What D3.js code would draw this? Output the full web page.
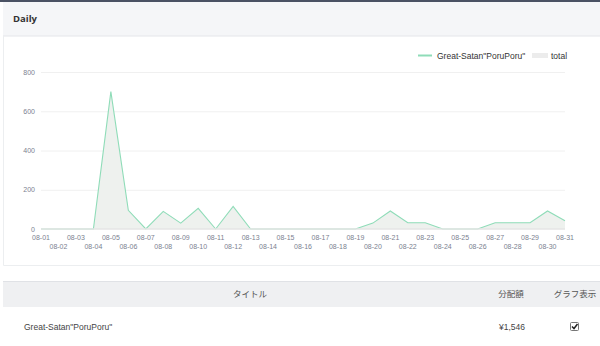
<!DOCTYPE html>
<html>
<head>
<meta charset="utf-8">
<script src="https://cdn.jsdelivr.net/npm/d3@7"></script>
<style>
  body { margin: 0; background: #fff; font-family: "Liberation Sans", "Noto Sans CJK JP", sans-serif; }
  svg { display: block; }
</style>
</head>
<body>
<script>
// Dates of the month shown on the x axis.
const days = d3.range(1, 32).map(d => "08-" + String(d).padStart(2, "0"));

// Daily amount for the single title (also drawn as the total area).
const poruValues = [0, 0, 0, 0, 700, 95, 0, 90, 30, 105, 0, 115, 0, 0, 0, 0,
                    0, 0, 0, 30, 92, 32, 32, 0, 0, 0, 32, 32, 32, 92, 42];

// Y ticks.
const yTicks = [0, 200, 400, 600, 800];

// Table rows.
const tableHeads = ["タイトル", "分配額", "グラフ表示"];
const rowTitles = ["Great-Satan\"PoruPoru\""];
const rowAmounts = ["¥1,546"];

const W = 600, H = 346;
const lineColor = "#8fdcb8";
const areaColor = "#eef1ee";
const tickColor = "#7b8190";

const svg = d3.select("body").append("svg")
    .attr("width", W)
    .attr("height", H);

// Top dark strip.
svg.append("rect").attr("x", 0).attr("y", 0).attr("width", W).attr("height", 2).attr("fill", "#4b5264");

// Header panel.
svg.append("rect").attr("x", 3).attr("y", 2).attr("width", W - 3).attr("height", 34)
    .attr("fill", "#f5f6f8");
svg.append("line").attr("x1", 3).attr("x2", W).attr("y1", 36).attr("y2", 36)
    .attr("stroke", "#e4e6ea");
svg.append("text").attr("x", 13).attr("y", 22)
    .attr("font-family", "Open Sans").attr("font-size", 9.5)
    .attr("font-weight", "bold").attr("fill", "#333")
    .text("Daily");

// Chart panel border.
svg.append("path").attr("d", `M3.5 36 V265.5 H${W}`)
    .attr("fill", "none").attr("stroke", "#eceef0");

const x = d3.scalePoint().domain(days).range([41, 565]);
const y = d3.scaleLinear().domain([0, 800]).range([229, 72]);

// Grid lines (baseline drawn later, over the line).
svg.append("g").selectAll("line").data(yTicks.filter(d => d > 0)).join("line")
    .attr("x1", 41).attr("x2", 565)
    .attr("y1", d => y(d) + 0.5).attr("y2", d => y(d) + 0.5)
    .attr("stroke", "#f0f0f0");

// Y labels.
svg.append("g").selectAll("text").data(yTicks).join("text")
    .attr("x", 35).attr("y", d => y(d) + 2.5)
    .attr("text-anchor", "end")
    .attr("font-size", 7).attr("fill", tickColor)
    .text(d => d);

// X labels in two staggered rows.
svg.append("g").selectAll("text").data(days).join("text")
    .attr("x", d => x(d))
    .attr("y", (d, i) => i % 2 === 0 ? 239.5 : 248.5)
    .attr("text-anchor", "middle")
    .attr("font-size", 7).attr("fill", tickColor)
    .text(d => d);

// Total area.
const area = d3.area()
    .x((d, i) => x(days[i]))
    .y0(y(0))
    .y1(d => y(d));
svg.append("path").datum(poruValues)
    .attr("d", area)
    .attr("fill", areaColor);

// Line.
const line = d3.line()
    .x((d, i) => x(days[i]))
    .y(d => y(d));
svg.append("path").datum(poruValues)
    .attr("d", line)
    .attr("fill", "none")
    .attr("stroke", lineColor)
    .attr("stroke-width", 1.1);

// Baseline over the line.
svg.append("line")
    .attr("x1", 41).attr("x2", 565)
    .attr("y1", y(0)).attr("y2", y(0))
    .attr("stroke", "#e4e4e4").attr("stroke-width", 1.6);

// Legend.
const legend = svg.append("g").attr("font-size", 8.5).attr("fill", "#333");
legend.append("line").attr("x1", 418).attr("x2", 432).attr("y1", 55.5).attr("y2", 55.5)
    .attr("stroke", lineColor).attr("stroke-width", 2);
legend.append("text").attr("x", 437).attr("y", 58.5).text(rowTitles[0]);
legend.append("rect").attr("x", 532).attr("y", 53).attr("width", 16).attr("height", 5)
    .attr("fill", "#ececec");
legend.append("text").attr("x", 551).attr("y", 58.5).text("total");

// Table header.
svg.append("rect").attr("x", 3).attr("y", 281).attr("width", W - 3).attr("height", 26)
    .attr("fill", "#eff0f2");
svg.append("line").attr("x1", 3).attr("x2", W).attr("y1", 281.5).attr("y2", 281.5)
    .attr("stroke", "#e0e2e6");
const headX = [250, 511, 575];
svg.append("g").selectAll("text").data(tableHeads).join("text")
    .attr("x", (d, i) => headX[i]).attr("y", 297)
    .attr("text-anchor", "middle")
    .attr("font-size", 8.5).attr("fill", "#555")
    .text(d => d);

// Table row.
svg.append("text").attr("x", 24).attr("y", 330)
    .attr("font-size", 8.5).attr("fill", "#444").text(rowTitles[0]);
svg.append("text").attr("x", 512).attr("y", 330).attr("text-anchor", "middle")
    .attr("font-size", 8.5).attr("fill", "#444").text(rowAmounts[0]);
const cb = svg.append("g").attr("transform", "translate(570,322)");
cb.append("rect").attr("x", 0.5).attr("y", 0.5).attr("width", 8).attr("height", 8).attr("rx", 1)
    .attr("fill", "#fff").attr("stroke", "#777");
cb.append("path").attr("d", "M2 4.5 L4 6.5 L7.5 2")
    .attr("fill", "none").attr("stroke", "#222").attr("stroke-width", 1.5);
</script>
</body>
</html>
